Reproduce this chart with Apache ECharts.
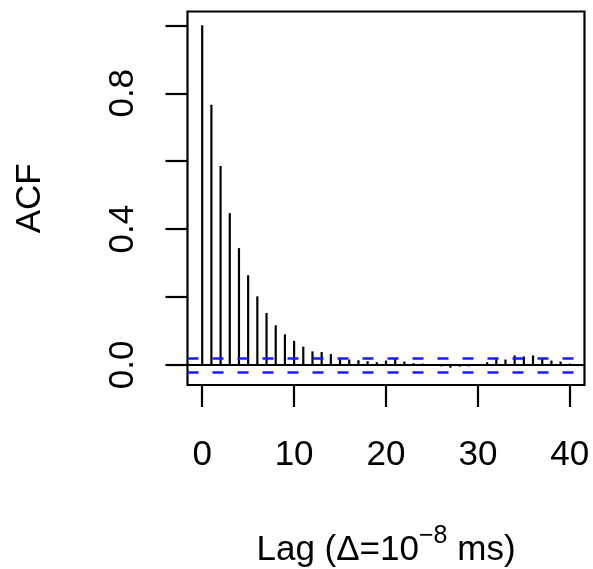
<!DOCTYPE html>
<html>
<head>
<meta charset="utf-8">
<script src="https://cdn.jsdelivr.net/npm/echarts@6/dist/echarts.min.js"></script>
<style>
html,body{margin:0;padding:0;background:#fff;}
#chart{width:593px;height:569px;}
</style>
</head>
<body>
<div id="chart"></div>
<script>
var lags = [0,1,2,3,4,5,6,7,8,9,10,11,12,13,14,15,16,17,18,19,20,21,22,23,24,25,26,27,28,29,30,31,32,33,34,35,36,37,38,39,40];
var acfValues = [1.0,0.766,0.586,0.447,0.344,0.264,0.202,0.153,0.117,0.090,0.071,0.054,0.040,0.038,0.032,0.020,0.016,0.014,0.011,0.008,0.013,0.018,0.010,0.005,0.004,0.002,-0.004,-0.008,-0.005,-0.004,0.001,0.008,0.018,0.016,0.028,0.025,0.028,0.020,0.013,0.010,0.004];
var ciBound = 0.0193;
var xTicks = [0,10,20,30,40];
var yTicks = [0,0.2,0.4,0.6,0.8,1.0];
var yLabels = [0,0.4,0.8];

var FONT = '"Liberation Sans", Arial, Helvetica, sans-serif';
var chart = echarts.init(document.getElementById('chart'), null, {renderer:'canvas'});
var data = lags.map(function(l,i){ return [l, acfValues[i]]; });

chart.setOption({
  animation:false,
  backgroundColor:'#fff',
  grid:{left:187.5, right:8.5, top:11.5, bottom:184, show:true, borderColor:'#000', borderWidth:2.2, backgroundColor:'transparent', containLabel:false, outerBoundsMode:'none'},
  xAxis:{
    type:'value', min:-1.6, max:41.6,
    axisLine:{show:false, onZero:false},
    splitLine:{show:false},
    axisTick:{show:true, length:22, inside:false, lineStyle:{color:'#000', width:2.2}, customValues:xTicks},
    axisLabel:{show:true, customValues:xTicks, margin:53, color:'#000', fontSize:35, fontFamily:FONT,
      formatter:function(v){return String(v);}},
    name:'{a|Lag (Δ=10}{sup|−8}{a| ms)}',
    nameLocation:'middle', nameGap:139,
    nameTextStyle:{color:'#000', fontFamily:FONT,
      rich:{
        a:{fontSize:35, fontFamily:FONT, color:'#000', lineHeight:44, verticalAlign:'bottom'},
        sup:{fontSize:25, fontFamily:FONT, color:'#000', lineHeight:26, verticalAlign:'top'}
      }}
  },
  yAxis:{
    type:'value', min:-0.059, max:1.0407,
    axisLine:{show:false, onZero:false},
    splitLine:{show:false},
    axisTick:{show:true, length:22, inside:false, lineStyle:{color:'#000', width:2.2}, customValues:yTicks},
    axisLabel:{show:true, customValues:yLabels, rotate:90, margin:47, color:'#000', fontSize:35, fontFamily:FONT,
      formatter:function(v){return v.toFixed(1);}},
    name:'ACF', nameLocation:'middle', nameGap:140, nameRotate:90,
    nameTextStyle:{color:'#000', fontSize:35, fontFamily:FONT}
  },
  series:[{
    type:'bar',
    data:data,
    barWidth:2.2,
    itemStyle:{color:'#000'},
    silent:true,
    markLine:{
      silent:true,
      symbol:['none','none'],
      label:{show:false},
      animation:false,
      data:[
        {yAxis:0, lineStyle:{color:'#000', width:2.2, type:'solid'}},
        {yAxis:ciBound, lineStyle:{color:'#1a1aff', width:2.5, type:[11,14]}},
        {yAxis:-ciBound, lineStyle:{color:'#1a1aff', width:2.5, type:[11,14]}}
      ]
    }
  }]
});
</script>
</body>
</html>
